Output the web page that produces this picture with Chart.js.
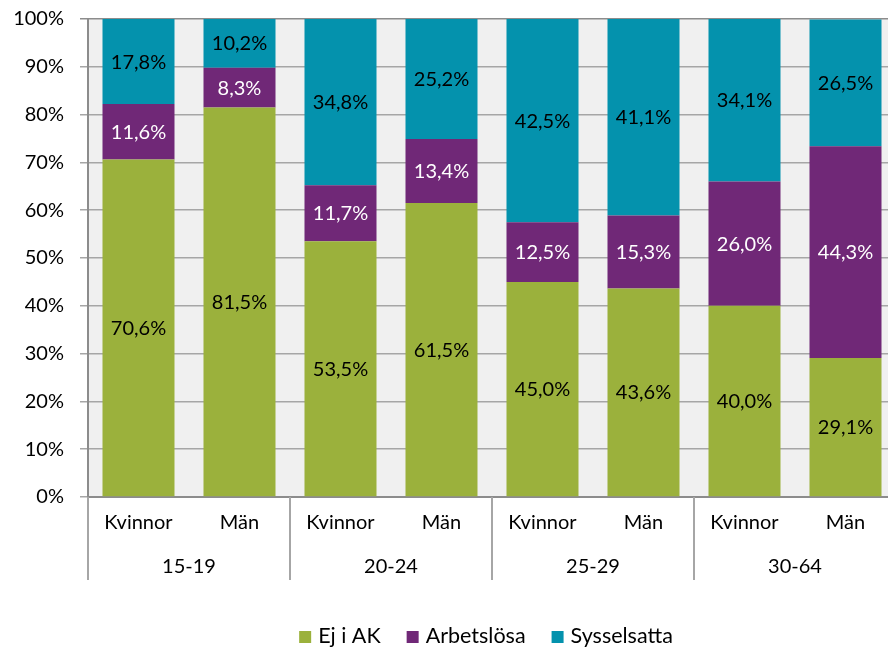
<!DOCTYPE html>
<html lang="sv">
<head>
    <meta charset="utf-8"/>
    <title>Ej i AK, Arbetslösa, Sysselsatta</title>
    <script src="https://cdn.jsdelivr.net/npm/chart.js"></script>
    <style>
        html, body { margin: 0; padding: 0; background: #fff; overflow: hidden; }
        /* plot runs a few px past the right edge, like the original */
        #wrap { width: 896px; height: 648px; position: relative; }
    </style>
</head>
<body>
<div id="wrap"><canvas id="chart"></canvas></div>
<script>
    // data
    const categories = ['Kvinnor', 'Män', 'Kvinnor', 'Män', 'Kvinnor', 'Män', 'Kvinnor', 'Män'];
    const ageGroups = ['15-19', '20-24', '25-29', '30-64'];
    const ejIAK = [70.6, 81.5, 53.5, 61.5, 45.0, 43.6, 40.0, 29.1];
    const arbetslosa = [11.6, 8.3, 11.7, 13.4, 12.5, 15.3, 26.0, 44.3];
    const sysselsatta = [17.8, 10.2, 34.8, 25.2, 42.5, 41.1, 34.1, 26.5];
    const yTicks = [0, 10, 20, 30, 40, 50, 60, 70, 80, 90, 100];

    const GREEN = '#9bb13c', PURPLE = '#702877', TEAL = '#0492ad';
    const FONT = 'Lato, "Open Sans", sans-serif';

    Chart.defaults.font.family = FONT;
    Chart.defaults.font.size = 20;
    Chart.defaults.color = '#000';

    // grey plot background
    const plotBg = {
        id: 'plotBg',
        beforeDraw(chart) {
            const {ctx, chartArea: a} = chart;
            ctx.save();
            ctx.fillStyle = '#f0f0f0';
            ctx.fillRect(a.left, a.top, a.right - a.left, a.bottom - a.top);
            ctx.restore();
        }
    };

    // value labels in the middle of each segment
    const segLabels = {
        id: 'segLabels',
        afterDatasetsDraw(chart) {
            const ctx = chart.ctx;
            ctx.save();
            ctx.font = '20px ' + FONT;
            ctx.textAlign = 'center';
            ctx.textBaseline = 'alphabetic';
            chart.data.datasets.forEach((ds, i) => {
                const meta = chart.getDatasetMeta(i);
                ctx.fillStyle = ds.labelColor;
                meta.data.forEach((bar, j) => {
                    const p = bar.getProps(['x', 'y', 'base'], true);
                    const cy = (Math.max(p.y, chart.chartArea.top) + p.base) / 2;
                    ctx.fillText(ds.data[j].toFixed(1).replace('.', ',') + '%', p.x, cy + 7);
                });
            });
            ctx.restore();
        }
    };

    // second row of x labels, separators, and the legend
    const groupAxis = {
        id: 'groupAxis',
        afterDraw(chart) {
            const ctx = chart.ctx;
            const x = chart.scales.x;
            const bottom = chart.chartArea.bottom;
            const half = (x.getPixelForValue(1) - x.getPixelForValue(0)) / 2;
            ctx.save();
            ctx.strokeStyle = '#a6a6a6';
            ctx.lineWidth = 2;
            for (let g = 0; g <= ageGroups.length; g++) {
                const px = Math.round(x.getPixelForValue(g * 2) - half);
                ctx.beginPath();
                ctx.moveTo(px, bottom);
                ctx.lineTo(px, 580);
                ctx.stroke();
            }
            ctx.font = '20px ' + FONT;
            ctx.fillStyle = '#000';
            ctx.textAlign = 'center';
            ageGroups.forEach((g, i) => {
                const cx = (x.getPixelForValue(i * 2) + x.getPixelForValue(i * 2 + 1)) / 2;
                ctx.fillText(g, cx, 573);
            });

            // legend
            ctx.font = '21.5px ' + FONT;
            const items = chart.data.datasets.map(d => ({text: d.label, color: d.backgroundColor}));
            const box = 12, gap = 7, spacing = 26;
            let total = 0;
            items.forEach((it, i) => {
                it.w = ctx.measureText(it.text).width;
                total += box + gap + it.w + (i < items.length - 1 ? spacing : 0);
            });
            let lx = 486 - total / 2;
            ctx.textAlign = 'left';
            items.forEach(it => {
                ctx.fillStyle = it.color;
                ctx.fillRect(lx, 631, box, box);
                lx += box + gap;
                ctx.fillStyle = '#000';
                ctx.fillText(it.text, lx, 643);
                lx += it.w + spacing;
            });
            ctx.restore();
        }
    };

    new Chart(document.getElementById('chart'), {
        type: 'bar',
        data: {
            labels: categories,
            datasets: [
                {label: 'Ej i AK', data: ejIAK, backgroundColor: GREEN, labelColor: '#000'},
                {label: 'Arbetslösa', data: arbetslosa, backgroundColor: PURPLE, labelColor: '#fff'},
                {label: 'Sysselsatta', data: sysselsatta, backgroundColor: TEAL, labelColor: '#000'}
            ]
        },
        options: {
            responsive: true,
            maintainAspectRatio: false,
            animation: false,
            layout: {padding: {top: 19, left: 0, right: 0, bottom: 0}},
            datasets: {bar: {barPercentage: 0.713, categoryPercentage: 1}},
            plugins: {legend: {display: false}, tooltip: {enabled: false}},
            scales: {
                x: {
                    stacked: true,
                    grid: {display: true, drawOnChartArea: false, drawTicks: false, color: 'rgba(0,0,0,0)'},
                    border: {display: true, color: '#8c8c8c', width: 2},
                    ticks: {padding: 14, maxRotation: 0, autoSkip: false},
                    afterFit(s) { s.height = 151; s.paddingLeft = 0; s.paddingRight = 0; }
                },
                y: {
                    stacked: true,
                    min: 0,
                    max: 100,
                    afterBuildTicks(s) { s.ticks = yTicks.map(v => ({value: v})); },
                    ticks: {padding: 16, callback: v => v + '%'},
                    grid: {
                        color: c => (c.tick && c.tick.value === 100) ? '#8c8c8c' : '#a6a6a6',
                        lineWidth: 1.5,
                        tickLength: 8
                    },
                    border: {display: true, color: '#8c8c8c', width: 2},
                    afterFit(s) { s.width = 88; s.paddingTop = 0; s.paddingBottom = 0; }
                }
            }
        },
        plugins: [plotBg, segLabels, groupAxis]
    });
</script>
</body>
</html>
